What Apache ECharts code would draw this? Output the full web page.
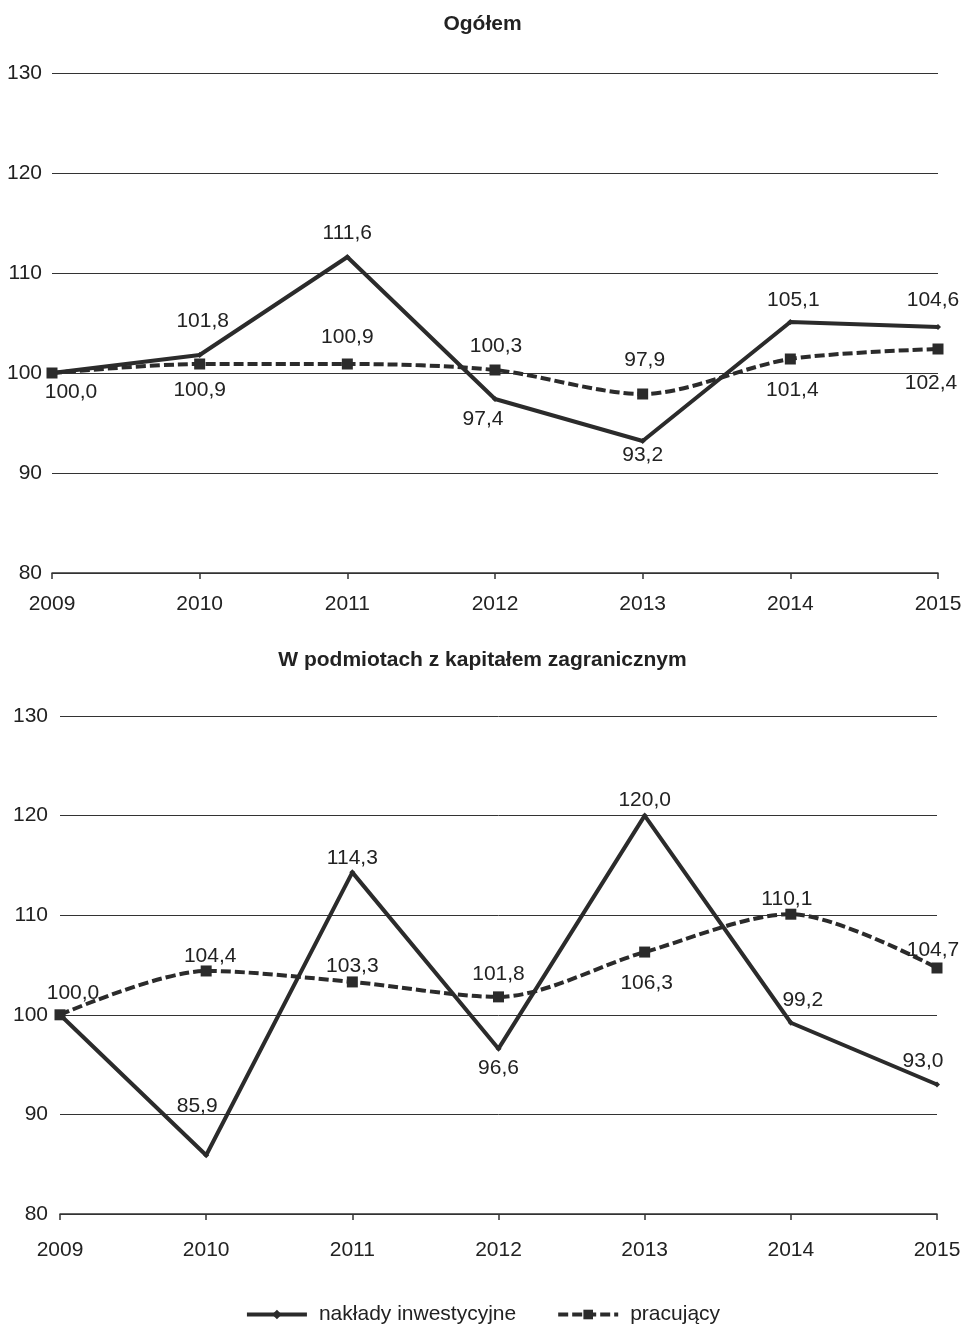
<!DOCTYPE html>
<html>
<head>
<meta charset="utf-8">
<script src="https://cdn.jsdelivr.net/npm/echarts@6/dist/echarts.min.js"></script>
<style>
html,body{margin:0;padding:0;background:#fff;}
#chart{width:965px;height:1324px;}
</style>
</head>
<body>
<div id="chart"></div>
<script>
// ---- data ----
const years = ['2009', '2010', '2011', '2012', '2013', '2014', '2015'];
const ogolemNaklady = [100.0, 101.8, 111.6, 97.4, 93.2, 105.1, 104.6];
const ogolemPracujacy = [100.0, 100.9, 100.9, 100.3, 97.9, 101.4, 102.4];
const zagrNaklady = [100.0, 85.9, 114.3, 96.6, 120.0, 99.2, 93.0];
const zagrPracujacy = [100.0, 104.4, 103.3, 101.8, 106.3, 110.1, 104.7];
const titleTop = 'Ogółem';
const titleBottom = 'W podmiotach z kapitałem zagranicznym';
const seriesNames = ['nakłady inwestycyjne', 'pracujący'];
const yMin = 80, yMax = 130, yStep = 10;

// ---- label placement (offsets in px from the point, null = hidden) ----
const offTopSolid = [[19, 19], [3, -34], [0, -24], [-12, 20], [0, 14], [3, -22], [-5, -27]];
const offTopDash = [null, [0, 26], [0, -27], [1, -24], [2, -34], [2, 31], [-7, 34]];
const offBotSolid = [null, [-9, -49], [0, -14], [0, 20], [0, -15], [12, -23], [-14, -23]];
const offBotDash = [[13, -22], [4, -15], [0, -15.5], [0, -23], [2, 31], [-4, -15.5], [-4, -17.5]];

const FONT = '"Liberation Sans", Arial, sans-serif';
const FS = 21;
const TXT = '#222';
const LINE = '#2b2b2b';

function fmt(v) { return v.toFixed(1).replace('.', ','); }

function items(values, offs) {
  return values.map((v, i) => ({
    value: v,
    label: offs[i] ? { show: true, offset: offs[i] } : { show: false }
  }));
}

const labelBase = {
  show: true,
  position: 'inside',
  align: 'center',
  verticalAlign: 'middle',
  color: TXT,
  fontFamily: FONT,
  fontSize: FS,
  formatter: p => fmt(p.value)
};

function solidSeries(idx, values, offs) {
  return {
    name: seriesNames[0],
    type: 'line',
    xAxisIndex: idx, yAxisIndex: idx,
    data: items(values, offs),
    symbol: 'diamond',
    symbolSize: 6,
    itemStyle: { color: LINE },
    lineStyle: { color: LINE, width: 4 },
    label: labelBase,
    z: 3
  };
}
function dashSeries(idx, values, offs) {
  return {
    name: seriesNames[1],
    type: 'line',
    xAxisIndex: idx, yAxisIndex: idx,
    data: items(values, offs),
    smooth: 0.3,
    symbol: 'rect',
    symbolSize: 11,
    itemStyle: { color: LINE },
    lineStyle: { color: LINE, width: 4, type: [10, 4] },
    label: labelBase,
    z: 4
  };
}

function xAxis(idx, margin) {
  return {
    type: 'category',
    gridIndex: idx,
    data: years,
    boundaryGap: false,
    axisLine: { show: true, lineStyle: { color: '#333', width: 1.5 } },
    axisTick: { show: true, length: 6, alignWithLabel: true, lineStyle: { color: '#333', width: 1.5 } },
    axisLabel: { color: TXT, fontFamily: FONT, fontSize: FS, margin: margin },
    splitLine: { show: false }
  };
}
function yAxis(idx, margin) {
  return {
    type: 'value',
    gridIndex: idx,
    min: yMin, max: yMax, interval: yStep,
    axisLine: { show: false },
    axisTick: { show: false },
    axisLabel: { color: TXT, fontFamily: FONT, fontSize: FS, margin: margin },
    splitLine: { show: true, lineStyle: { color: '#333', width: 1 } }
  };
}

const chart = echarts.init(document.getElementById('chart'), null, { renderer: 'canvas' });
chart.setOption({
  animation: false,
  backgroundColor: '#fff',
  title: [
    { text: titleTop, left: 'center', top: 9,
      textStyle: { fontFamily: FONT, fontSize: FS, fontWeight: 'bold', color: TXT } },
    { text: titleBottom, left: 'center', top: 645,
      textStyle: { fontFamily: FONT, fontSize: FS, fontWeight: 'bold', color: TXT } }
  ],
  legend: {
    top: 1299,
    left: 'center',
    itemWidth: 60,
    itemHeight: 12,
    itemGap: 40,
    data: seriesNames,
    lineStyle: { width: 4 },
    textStyle: { fontFamily: FONT, fontSize: FS, color: TXT, padding: [0, 0, 0, 7] }
  },
  grid: [
    { left: 52, top: 73, width: 886, height: 500 },
    { left: 60, top: 716, width: 877, height: 498 }
  ],
  xAxis: [xAxis(0, 21), xAxis(1, 26)],
  yAxis: [yAxis(0, 10), yAxis(1, 12)],
  series: [
    solidSeries(0, ogolemNaklady, offTopSolid),
    dashSeries(0, ogolemPracujacy, offTopDash),
    solidSeries(1, zagrNaklady, offBotSolid),
    dashSeries(1, zagrPracujacy, offBotDash)
  ]
});
</script>
</body>
</html>
